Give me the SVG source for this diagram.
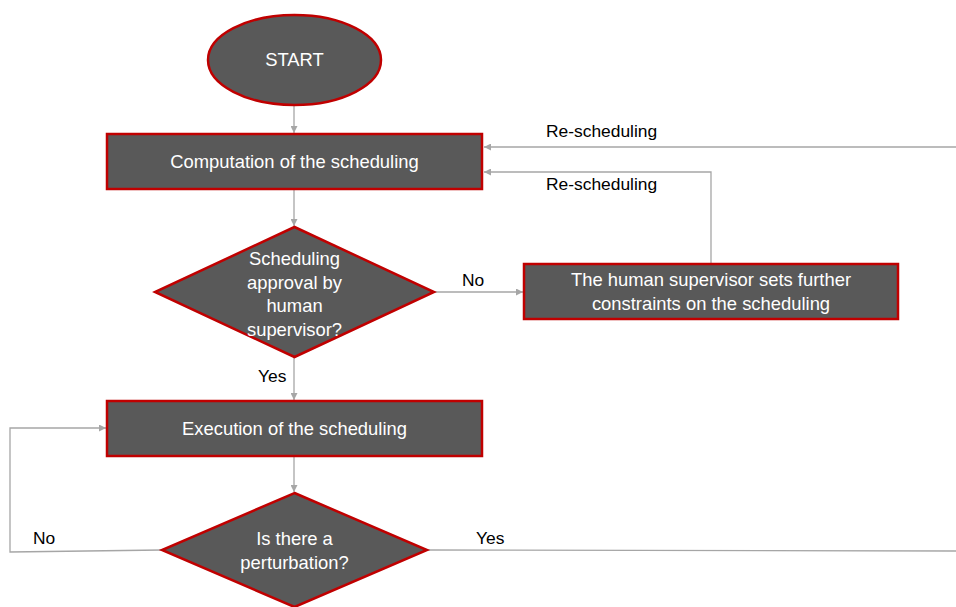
<svg xmlns="http://www.w3.org/2000/svg" width="956" height="607" viewBox="0 0 956 607">
<style>
.shape{fill:#595959;stroke:#c00000;stroke-width:2.5}
.wt{fill:#ffffff;font-family:"Liberation Sans",Arial,sans-serif;font-size:18.4px;text-anchor:middle}
.lb{fill:#000000;font-family:"Liberation Sans",Arial,sans-serif;font-size:17.4px}
.cn{fill:none;stroke:#a6a6a6;stroke-width:1.3}
</style>
<defs>
<marker id="ah" viewBox="0 0 10 10" refX="10" refY="5" markerWidth="7" markerHeight="7" markerUnits="userSpaceOnUse" orient="auto">
<path d="M0,0 L10,5 L0,10 z" fill="#a6a6a6"/>
</marker>
</defs>
<rect width="956" height="607" fill="#ffffff"/>
<g id="connectors">
<line class="cn" x1="294" y1="105" x2="294" y2="133" marker-end="url(#ah)"/>
<line class="cn" x1="294" y1="190" x2="294" y2="226" marker-end="url(#ah)"/>
<line class="cn" x1="434" y1="292" x2="523" y2="292" marker-end="url(#ah)"/>
<polyline class="cn" points="711,264 711,172 484,172" marker-end="url(#ah)"/>
<line class="cn" x1="956" y1="147" x2="484" y2="147" marker-end="url(#ah)"/>
<line class="cn" x1="294" y1="357" x2="294" y2="400" marker-end="url(#ah)"/>
<line class="cn" x1="294" y1="456" x2="294" y2="492" marker-end="url(#ah)"/>
<polyline class="cn" points="162,550 10,552 10,428 106,428" marker-end="url(#ah)"/>
<line class="cn" x1="427" y1="550" x2="956" y2="551"/>
<text class="lb" x="546" y="137">Re-scheduling</text>
<text class="lb" x="546" y="190">Re-scheduling</text>
<text class="lb" x="462" y="286">No</text>
<text class="lb" x="258" y="382">Yes</text>
<text class="lb" x="33" y="544">No</text>
<text class="lb" x="476" y="544">Yes</text>
</g>
<g id="start">
<ellipse class="shape" cx="294.5" cy="60" rx="86.5" ry="45"/>
<text class="wt" x="294.5" y="66">START</text>
</g>
<g id="computation">
<rect class="shape" x="107" y="134" width="375" height="55"/>
<text class="wt" x="294.5" y="168">Computation of the scheduling</text>
</g>
<g id="approval">
<polygon class="shape" points="294.5,227 434,292 294.5,357 155,292"/>
<text class="wt" x="294.5" y="265">Scheduling</text>
<text class="wt" x="294.5" y="289">approval by</text>
<text class="wt" x="294.5" y="312">human</text>
<text class="wt" x="294.5" y="336">supervisor?</text>
</g>
<g id="constraints">
<rect class="shape" x="524" y="264" width="374" height="55"/>
<text class="wt" x="711" y="286">The human supervisor sets further</text>
<text class="wt" x="711" y="310">constraints on the scheduling</text>
</g>
<g id="execution">
<rect class="shape" x="107" y="401" width="375" height="55"/>
<text class="wt" x="294.5" y="435">Execution of the scheduling</text>
</g>
<g id="perturbation">
<polygon class="shape" points="294.5,493 427,550 294.5,607 162,550"/>
<text class="wt" x="294.5" y="545">Is there a</text>
<text class="wt" x="294.5" y="569">perturbation?</text>
</g>
</svg>
